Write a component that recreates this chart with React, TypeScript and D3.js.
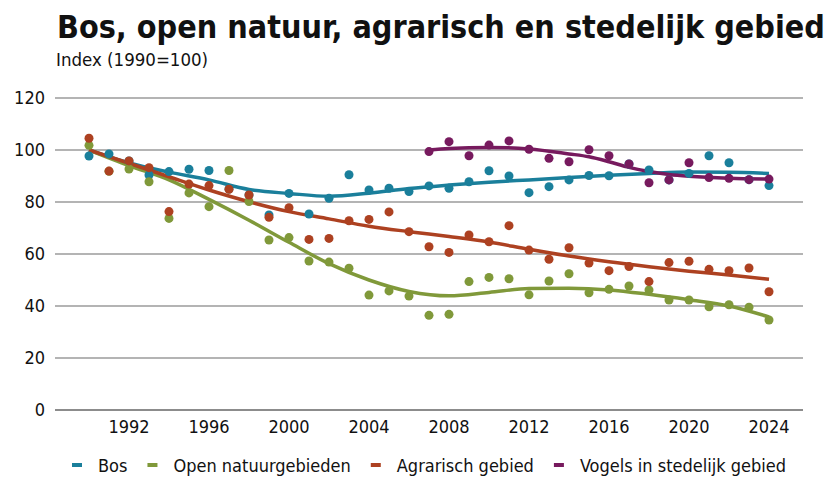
import React, { useEffect, useRef } from 'react'
import * as d3 from 'd3'

const years = d3.range(1990, 2025)

const bos = [
  97.7, 98.5, 95.8, 90.4, 91.7, 92.6, 92.1, 85.0, 82.7, 75.0, 83.3, 75.4, 81.4, 90.5, 84.6, 85.3, 84.0, 86.2,
  85.3, 87.8, 92.0, 90.0, 83.6, 85.9, 88.5, 90.2, 90.1, 94.6, 92.3, 88.5, 91.0, 97.8, 95.1, 88.6, 86.3,
]
const open = [
  101.8, 91.8, 92.7, 87.8, 73.7, 83.5, 78.2, 92.1, 80.2, 65.4, 66.3, 57.3, 56.9, 54.5, 44.2, 45.8, 43.8, 36.4,
  36.8, 49.4, 51.0, 50.5, 44.3, 49.6, 52.4, 45.1, 46.4, 47.7, 46.2, 42.3, 42.3, 39.7, 40.5, 39.5, 34.6,
]
const agrarisch = [
  104.5, 91.9, 95.8, 93.2, 76.3, 86.9, 86.3, 84.9, 82.7, 74.1, 77.8, 65.6, 66.0, 72.8, 73.3, 76.2, 68.6, 62.8,
  60.6, 67.3, 64.7, 70.9, 61.5, 58.0, 62.4, 56.5, 53.6, 55.2, 49.4, 56.7, 57.2, 54.1, 53.6, 54.6, 45.5,
]
const vogelsYears = d3.range(2007, 2025)
const vogels = [99.4, 103.2, 97.8, 101.9, 103.5, 100.3, 96.8, 95.5, 100.1, 97.8, 94.6, 87.4, 88.5, 95.1, 89.4, 89.1, 88.6, 88.8]

// trendlijnen
const trendYears = d3.range(1990, 2025, 2)
const bosTrend = [100, 95, 91.5, 88.5, 84.8, 83.3, 82.2, 83.4, 85.2, 86.5, 87.6, 88.5, 89.4, 90.3, 91, 91.5, 91.4, 91]
const openTrend = [100, 94, 88.5, 81, 73, 64.5, 56.3, 50, 45.6, 43.9, 45.2, 46.7, 46.8, 46.2, 44.5, 42.4, 40, 35.8]
const agrTrend = [100, 94.9, 89.7, 84.6, 80.1, 76.3, 73.5, 70.7, 68.6, 66.7, 64.6, 61.8, 59.2, 57, 55.1, 53.4, 51.9, 50.3]
const vogelsTrendYears = [2007, 2008, 2010, 2012, 2014, 2015, 2016, 2017, 2018, 2019, 2020, 2022, 2024]
const vogelsTrend = [100, 100.6, 101, 100.4, 98.5, 97.4, 95.5, 93.3, 91.7, 90.6, 89.9, 89.1, 88.8]

const yTicks = [0, 20, 40, 60, 80, 100, 120]
const xTicks = [1992, 1996, 2000, 2004, 2008, 2012, 2016, 2020, 2024]

const series = [
  { name: 'Bos', color: '#1a7f9b', px: years, py: bos, tx: trendYears, ty: bosTrend },
  { name: 'Open natuurgebieden', color: '#80993a', px: years, py: open, tx: trendYears, ty: openTrend },
  { name: 'Agrarisch gebied', color: '#ad4121', px: years, py: agrarisch, tx: trendYears, ty: agrTrend },
  { name: 'Vogels in stedelijk gebied', color: '#771a5e', px: vogelsYears, py: vogels, tx: vogelsTrendYears, ty: vogelsTrend },
]

const font = '"DejaVu Sans Condensed", "Liberation Sans Narrow", sans-serif'

export default function App() {
  const ref = useRef<SVGSVGElement>(null)

  useEffect(() => {
    document.body.style.margin = '0'
    const svg = d3.select(ref.current)
    svg.selectAll('*').remove()

    const x = d3.scaleLinear().domain([1990, 2024]).range([89, 769])
    const y = d3.scaleLinear().domain([0, 120]).range([410, 98])

    // titel: lettergrootte zo kiezen dat hij ~770px breed wordt
    const title = svg
      .append('text')
      .attr('x', 57)
      .attr('y', 38)
      .attr('font-size', 34)
      .attr('font-weight', 'bold')
      .attr('fill', '#111')
      .text('Bos, open natuur, agrarisch en stedelijk gebied')
    const tw = (title.node() as SVGTextElement).getComputedTextLength()
    title.attr('font-size', Math.min(34, (34 * 768) / tw))

    svg
      .append('text')
      .attr('x', 56)
      .attr('y', 66)
      .attr('font-size', 18.5)
      .attr('fill', '#111')
      .text('Index (1990=100)')

    const grid = svg.append('g')
    grid
      .selectAll('line')
      .data(yTicks)
      .join('line')
      .attr('x1', 55)
      .attr('x2', 803)
      .attr('y1', (d) => y(d))
      .attr('y2', (d) => y(d))
      .attr('stroke', (d) => (d === 0 ? '#8c8c8c' : '#b4b4b4'))
      .attr('stroke-width', 2)

    grid
      .selectAll('text')
      .data(yTicks)
      .join('text')
      .attr('x', 45)
      .attr('y', (d) => y(d))
      .attr('dy', '0.35em')
      .attr('text-anchor', 'end')
      .attr('font-size', 18)
      .attr('fill', '#111')
      .text((d) => d)

    svg
      .append('g')
      .selectAll('text')
      .data(xTicks)
      .join('text')
      .attr('x', (d) => x(d))
      .attr('y', 433)
      .attr('text-anchor', 'middle')
      .attr('font-size', 18)
      .attr('fill', '#111')
      .text((d) => d)

    const line = d3
      .line<number>()
      .curve(d3.curveMonotoneX)

    series.forEach((s) => {
      svg
        .append('path')
        .attr('d', line.x((_, i) => x(s.tx[i])).y((d) => y(d))(s.ty))
        .attr('fill', 'none')
        .attr('stroke', s.color)
        .attr('stroke-width', 3.5)
    })

    series.forEach((s) => {
      svg
        .append('g')
        .selectAll('circle')
        .data(s.py)
        .join('circle')
        .attr('cx', (_, i) => x(s.px[i]))
        .attr('cy', (d) => y(d))
        .attr('r', 4.5)
        .attr('fill', s.color)
    })

    // legenda
    const legend = svg.append('g').attr('font-size', 18).attr('fill', '#111')
    let lx = 72
    series.forEach((s) => {
      legend.append('rect').attr('x', lx).attr('y', 463).attr('width', 10).attr('height', 4).attr('fill', s.color)
      const t = legend
        .append('text')
        .attr('x', lx + 26)
        .attr('y', 472)
        .text(s.name)
      const w = (t.node() as SVGTextElement).getComputedTextLength()
      lx += 26 + w + 20
    })
  }, [])

  return <svg ref={ref} width={840} height={481} style={{ display: 'block', fontFamily: font }} />
}
